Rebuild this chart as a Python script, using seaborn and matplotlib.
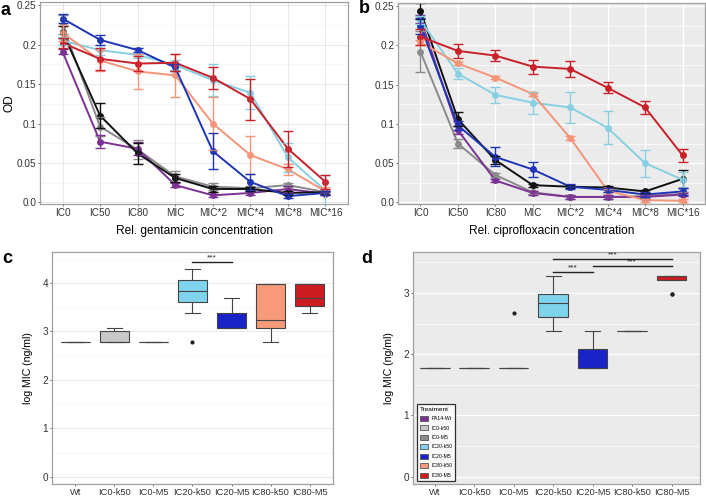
import numpy as np
import pandas as pd
import matplotlib
matplotlib.use("Agg")
import matplotlib.pyplot as plt
import seaborn as sns
from matplotlib.patches import Patch
from matplotlib.ticker import MultipleLocator, FixedLocator

# ---------------- data ----------------
conc = ["IC0", "IC50", "IC80", "MIC", "MIC*2", "MIC*4", "MIC*8", "MIC*16"]
strains = ["PA14-Wt", "IC0-k50", "IC0-M5", "IC20-k50", "IC20-M5", "IC80-k50", "IC80-M5"]

# Panel a: gentamicin OD (mean, error)
gent_wt = [0.191, 0.077, 0.068, 0.022, 0.009, 0.012, 0.017, 0.011]
gent_wt_err = [0.003, 0.008, 0.008, 0.002, 0.002, 0.002, 0.004, 0.002]
gent_ic0k = [0.225, 0.096, 0.067, 0.033, 0.020, 0.018, 0.022, 0.013]
gent_ic0k_err = [0.012, 0.012, 0.012, 0.007, 0.004, 0.003, 0.003, 0.002]
gent_ic0m = [0.216, 0.110, 0.062, 0.031, 0.017, 0.017, 0.012, 0.013]
gent_ic0m_err = [0.008, 0.016, 0.013, 0.005, 0.004, 0.003, 0.002, 0.002]
gent_ic20k = [0.205, 0.193, 0.187, 0.174, 0.155, 0.139, 0.057, 0.015]
gent_ic20k_err = [0.005, 0.006, 0.004, 0.006, 0.020, 0.021, 0.018, 0.020]
gent_ic20m = [0.233, 0.206, 0.193, 0.171, 0.065, 0.026, 0.008, 0.012]
gent_ic20m_err = [0.006, 0.006, 0.003, 0.005, 0.023, 0.010, 0.003, 0.002]
gent_ic80k = [0.215, 0.180, 0.166, 0.161, 0.100, 0.060, 0.042, 0.014]
gent_ic80k_err = [0.010, 0.013, 0.022, 0.027, 0.033, 0.024, 0.007, 0.005]
gent_ic80m = [0.202, 0.182, 0.176, 0.177, 0.158, 0.131, 0.068, 0.026]
gent_ic80m_err = [0.006, 0.014, 0.010, 0.011, 0.014, 0.026, 0.023, 0.009]

# Panel b: ciprofloxacin OD (mean, error)
cip_wt = [0.234, 0.092, 0.028, 0.012, 0.007, 0.007, 0.007, 0.010]
cip_wt_err = [0.005, 0.005, 0.002, 0.003, 0.002, 0.002, 0.002, 0.002]
cip_ic0k = [0.192, 0.075, 0.035, 0.013, 0.007, 0.007, 0.008, 0.011]
cip_ic0k_err = [0.026, 0.006, 0.002, 0.002, 0.002, 0.002, 0.002, 0.002]
cip_ic0m = [0.244, 0.106, 0.054, 0.022, 0.020, 0.019, 0.014, 0.030]
cip_ic0m_err = [0.010, 0.009, 0.005, 0.002, 0.002, 0.002, 0.002, 0.011]
cip_ic20k = [0.232, 0.164, 0.137, 0.127, 0.121, 0.095, 0.050, 0.029]
cip_ic20k_err = [0.005, 0.007, 0.010, 0.014, 0.020, 0.021, 0.017, 0.010]
cip_ic20m = [0.225, 0.098, 0.058, 0.042, 0.020, 0.016, 0.010, 0.014]
cip_ic20m_err = [0.010, 0.006, 0.012, 0.010, 0.003, 0.003, 0.003, 0.004]
cip_ic80k = [0.204, 0.177, 0.159, 0.138, 0.082, 0.015, 0.003, 0.002]
cip_ic80k_err = [0.003, 0.002, 0.002, 0.002, 0.002, 0.002, 0.002, 0.002]
cip_ic80m = [0.211, 0.193, 0.187, 0.173, 0.170, 0.146, 0.121, 0.060]
cip_ic80m_err = [0.010, 0.009, 0.007, 0.009, 0.010, 0.007, 0.008, 0.008]

# Panels c/d: log MIC values per isolate
box_groups = ["Wt", "IC0-k50", "IC0-M5", "IC20-k50", "IC20-M5", "IC80-k50", "IC80-M5"]
gmic_wt = [2.78, 2.78, 2.78, 2.78, 2.78, 2.78]
gmic_ic0k = [2.78, 2.78, 2.78, 2.78, 3.08, 3.08]
gmic_ic0m = [2.78, 2.78, 2.78, 2.78, 2.78, 2.78]
gmic_ic20k = [2.78, 3.38, 3.68, 3.68, 3.98, 3.98, 4.28, 4.28]
gmic_ic20m = [3.08, 3.08, 3.08, 3.08, 3.08, 3.38, 3.38, 3.68]
gmic_ic80k = [2.78, 3.08, 3.08, 3.08, 3.38, 3.98, 3.98, 3.98]
gmic_ic80m = [3.38, 3.38, 3.68, 3.68, 3.98, 3.98, 3.98]

cmic_wt = [1.78, 1.78, 1.78, 1.78, 1.78, 1.78, 1.78, 1.78]
cmic_ic0k = [1.78, 1.78, 1.78, 1.78, 1.78, 1.78, 1.78, 1.78]
cmic_ic0m = [1.78, 1.78, 1.78, 1.78, 1.78, 1.78, 1.78, 2.68]
cmic_ic20k = [2.38, 2.38, 2.68, 2.68, 2.98, 2.98, 2.98, 3.28]
cmic_ic20m = [1.78, 1.78, 1.78, 1.78, 1.78, 2.08, 2.08, 2.38]
cmic_ic80k = [2.38, 2.38, 2.38, 2.38, 2.38, 2.38, 2.38, 2.38]
cmic_ic80m = [2.98, 2.98, 3.28, 3.28, 3.28, 3.28, 3.28, 3.28]

# significance brackets (group1, group2, height)
gent_sig = [("IC20-k50", "IC20-M5", 4.43)]
cip_sig = [("IC20-k50", "IC20-M5", 3.34), ("IC20-M5", "IC80-M5", 3.44), ("IC20-k50", "IC80-M5", 3.56)]

# ---------------- styling ----------------
line_colors = ["#7B3294", "#8A8A8A", "#111111", "#86D0E2", "#1F35B5", "#F4957A", "#C9202A"]
box_colors = ["#7E2F8E", "#C8C8C8", "#8C8C8C", "#7FD3EC", "#1A23C8", "#F79A7A", "#CC1C22"]
draw_order = ["IC0-k50", "PA14-Wt", "IC0-M5", "IC20-k50", "IC80-k50", "IC20-M5", "IC80-M5"]

plt.rcParams["font.family"] = ["Liberation Sans", "DejaVu Sans"]

fig = plt.figure(figsize=(7.06, 4.98), dpi=100)
ax_a = fig.add_axes([40 / 706, 1 - 204 / 498, 308 / 706, 202 / 498])
ax_b = fig.add_axes([398 / 706, 1 - 204 / 498, 307 / 706, 201 / 498])
ax_c = fig.add_axes([52 / 706, 1 - 484 / 498, 281 / 706, 232 / 498])
ax_d = fig.add_axes([413 / 706, 1 - 484 / 498, 287 / 706, 232 / 498])


def style_axes(ax, gray, xsize):
    if gray:
        ax.set_facecolor("#EBEBEB")
        gc_major, gc_minor, lw_major, lw_minor = "white", "white", 1.0, 0.5
    else:
        ax.set_facecolor("white")
        gc_major, gc_minor, lw_major, lw_minor = "#E4E4E4", "#F1F1F1", 0.6, 0.4
    ax.set_axisbelow(True)
    ax.grid(True, which="major", color=gc_major, linewidth=lw_major)
    ax.grid(True, which="minor", axis="y", color=gc_minor, linewidth=lw_minor)
    for sp in ax.spines.values():
        sp.set_color("#A0A0A0")
        sp.set_linewidth(0.9)
    ax.tick_params(which="major", length=1.6, width=0.6, color="#555555",
                   labelsize=7.2, labelcolor="#333333", pad=1.0)
    ax.tick_params(axis="x", which="major", labelsize=xsize)
    ax.tick_params(which="minor", length=0)


def line_panel(ax, means, errs, xlabel, ylabel):
    rows = []
    for s, m, e in zip(strains, means, errs):
        for c, mv, ev in zip(conc, m, e):
            rows.append({"conc": c, "od": mv, "err": ev, "strain": s})
    df = pd.DataFrame(rows)
    pal = dict(zip(strains, line_colors))
    sns.lineplot(data=df, x="conc", y="od", hue="strain", hue_order=draw_order,
                 palette=pal, marker="o", markersize=5, markeredgewidth=0,
                 linewidth=1.4, sort=False, legend=False, errorbar=None, ax=ax)
    for s in draw_order:
        sub = df[df["strain"] == s]
        ax.errorbar(sub["conc"], sub["od"], yerr=sub["err"], fmt="none",
                    ecolor=pal[s], elinewidth=1.0, capsize=3.5, capthick=1.0, zorder=2)
    ax.set_xlim(-0.6, len(conc) - 0.4)
    ax.set_ylim(-0.002, 0.254)
    ax.yaxis.set_major_locator(FixedLocator([0, 0.05, 0.1, 0.15, 0.2, 0.25]))
    ax.set_yticklabels(["0.0", "0.05", "0.1", "0.15", "0.2", "0.25"])
    ax.yaxis.set_minor_locator(MultipleLocator(0.025))
    ax.set_xlabel(xlabel, fontsize=8.6, labelpad=5)
    ax.set_ylabel(ylabel, fontsize=8.6, labelpad=1)


def box_panel(ax, values, sigs, ylim, xlim, yticks):
    rows = []
    for g, vals in zip(box_groups, values):
        for v in vals:
            rows.append({"grp": g, "val": v})
    df = pd.DataFrame(rows)
    pal = dict(zip(box_groups, box_colors))
    sns.boxplot(data=df, x="grp", y="val", hue="grp", order=box_groups,
                hue_order=box_groups, palette=pal, saturation=1, width=0.75,
                linecolor="#444444", linewidth=0.8, fliersize=2, legend=False,
                flierprops={"marker": "o", "markerfacecolor": "#222222",
                            "markeredgecolor": "#222222"}, ax=ax)
    for g1, g2, h in sigs:
        x1, x2 = box_groups.index(g1), box_groups.index(g2)
        ax.plot([x1, x2], [h, h], color="#222222", linewidth=1.0)
        ax.text((x1 + x2) / 2, h + 0.01, "***", ha="center", va="bottom",
                fontsize=6, color="#222222")
    ax.set_xlim(*xlim)
    ax.set_ylim(*ylim)
    ax.yaxis.set_major_locator(FixedLocator(yticks))
    ax.yaxis.set_minor_locator(MultipleLocator(0.5))
    ax.set_xlabel("")
    ax.set_ylabel("log MIC (ng/ml)", fontsize=7.6, labelpad=7)


style_axes(ax_a, gray=False, xsize=7.2)
line_panel(ax_a,
           [gent_wt, gent_ic0k, gent_ic0m, gent_ic20k, gent_ic20m, gent_ic80k, gent_ic80m],
           [gent_wt_err, gent_ic0k_err, gent_ic0m_err, gent_ic20k_err, gent_ic20m_err,
            gent_ic80k_err, gent_ic80m_err],
           "Rel. gentamicin concentration", "OD")

style_axes(ax_b, gray=True, xsize=7.2)
line_panel(ax_b,
           [cip_wt, cip_ic0k, cip_ic0m, cip_ic20k, cip_ic20m, cip_ic80k, cip_ic80m],
           [cip_wt_err, cip_ic0k_err, cip_ic0m_err, cip_ic20k_err, cip_ic20m_err,
            cip_ic80k_err, cip_ic80m_err],
           "Rel. ciprofloxacin concentration", "")

style_axes(ax_c, gray=False, xsize=6.7)
box_panel(ax_c,
          [gmic_wt, gmic_ic0k, gmic_ic0m, gmic_ic20k, gmic_ic20m, gmic_ic80k, gmic_ic80m],
          gent_sig, (-0.15, 4.64), (-0.6, 6.6), [0, 1, 2, 3, 4])

style_axes(ax_d, gray=True, xsize=6.7)
box_panel(ax_d,
          [cmic_wt, cmic_ic0k, cmic_ic0m, cmic_ic20k, cmic_ic20m, cmic_ic80k, cmic_ic80m],
          cip_sig, (-0.12, 3.67), (-0.55, 6.72), [0, 1, 2, 3])

handles = [Patch(facecolor=c, edgecolor="#555555", linewidth=0.6) for c in box_colors]
leg = ax_d.legend(handles, strains, title="Treatment", loc="lower left",
                  bbox_to_anchor=(0.006, 0.004), fontsize=3.7, title_fontsize=4.6,
                  frameon=True, fancybox=False, handlelength=1.6, handleheight=1.2,
                  labelspacing=0.8, borderpad=0.5, handletextpad=0.7)
leg.get_frame().set_edgecolor("black")
leg.get_frame().set_linewidth(0.9)
leg.get_frame().set_facecolor("white")
leg._legend_box.align = "left"

for x, y, t in [(0.001, 0.970, "a"), (0.508, 0.974, "b"), (0.003, 0.472, "c"), (0.511, 0.472, "d")]:
    fig.text(x, y, t, fontsize=13, fontweight="bold", va="baseline", ha="left")

fig.savefig("out.png", dpi=100)
